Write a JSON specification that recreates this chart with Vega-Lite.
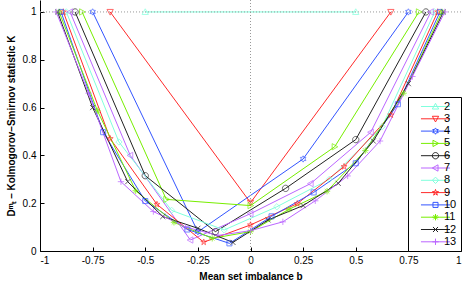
{
  "$schema": "https://vega.github.io/schema/vega-lite/v6.json",
  "width": 421,
  "height": 251,
  "autosize": {"type": "none"},
  "padding": {"left": 40, "top": 0, "right": 2, "bottom": 33},
  "config": {
    "font": "Liberation Sans",
    "view": {"stroke": null},
    "axis": {
      "domainColor": "#000000",
      "tickColor": "#000000",
      "labelColor": "#000000",
      "titleColor": "#000000",
      "labelFontSize": 10,
      "titleFontSize": 10,
      "titleFontWeight": "bold",
      "grid": false,
      "tickSize": -4,
      "labelPadding": 8
    },
    "legend": {
      "orient": "none", "legendX": 368, "legendY": 97,
      "strokeColor": "#000000", "fillColor": "#ffffff", "padding": 4,
      "labelFontSize": 11, "labelColor": "#000000", "symbolSize": 40,
      "rowPadding": 0.3, "symbolOffset": 18, "labelOffset": 3,
      "symbolStrokeWidth": 1, "symbolOpacity": 1
    }
  },
  "datasets": {
    "ks": [
      {"n": 2, "b": -0.5, "K": 1}, {"n": 2, "b": 0.5, "K": 1},
      {"n": 3, "b": -0.6667, "K": 1}, {"n": 3, "b": 0, "K": 0.202}, {"n": 3, "b": 0.6667, "K": 1},
      {"n": 4, "b": -0.75, "K": 1}, {"n": 4, "b": -0.25, "K": 0.08}, {"n": 4, "b": 0.25, "K": 0.385}, {"n": 4, "b": 0.75, "K": 1},
      {"n": 5, "b": -0.8, "K": 1}, {"n": 5, "b": -0.4, "K": 0.216}, {"n": 5, "b": 0, "K": 0.19}, {"n": 5, "b": 0.4, "K": 0.436}, {"n": 5, "b": 0.8, "K": 1},
      {"n": 6, "b": -0.8333, "K": 1}, {"n": 6, "b": -0.5, "K": 0.315}, {"n": 6, "b": -0.1667, "K": 0.081}, {"n": 6, "b": 0.1667, "K": 0.262}, {"n": 6, "b": 0.5, "K": 0.466}, {"n": 6, "b": 0.8333, "K": 1},
      {"n": 7, "b": -0.8571, "K": 1}, {"n": 7, "b": -0.5714, "K": 0.4}, {"n": 7, "b": -0.2857, "K": 0.046}, {"n": 7, "b": 0, "K": 0.156}, {"n": 7, "b": 0.2857, "K": 0.282}, {"n": 7, "b": 0.5714, "K": 0.497}, {"n": 7, "b": 0.8571, "K": 1},
      {"n": 8, "b": -0.875, "K": 1}, {"n": 8, "b": -0.625, "K": 0.456}, {"n": 8, "b": -0.375, "K": 0.17}, {"n": 8, "b": -0.125, "K": 0.088}, {"n": 8, "b": 0.125, "K": 0.185}, {"n": 8, "b": 0.375, "K": 0.3}, {"n": 8, "b": 0.625, "K": 0.52}, {"n": 8, "b": 0.875, "K": 1},
      {"n": 9, "b": -0.8889, "K": 1}, {"n": 9, "b": -0.6667, "K": 0.47}, {"n": 9, "b": -0.4444, "K": 0.195}, {"n": 9, "b": -0.2222, "K": 0.037}, {"n": 9, "b": 0, "K": 0.109}, {"n": 9, "b": 0.2222, "K": 0.198}, {"n": 9, "b": 0.4444, "K": 0.353}, {"n": 9, "b": 0.6667, "K": 0.569}, {"n": 9, "b": 0.8889, "K": 1},
      {"n": 10, "b": -0.9, "K": 1}, {"n": 10, "b": -0.7, "K": 0.497}, {"n": 10, "b": -0.5, "K": 0.209}, {"n": 10, "b": -0.3, "K": 0.09}, {"n": 10, "b": -0.1, "K": 0.032}, {"n": 10, "b": 0.1, "K": 0.145}, {"n": 10, "b": 0.3, "K": 0.245}, {"n": 10, "b": 0.5, "K": 0.367}, {"n": 10, "b": 0.7, "K": 0.614}, {"n": 10, "b": 0.9, "K": 1},
      {"n": 11, "b": -0.9091, "K": 1}, {"n": 11, "b": -0.7273, "K": 0.587}, {"n": 11, "b": -0.5455, "K": 0.252}, {"n": 11, "b": -0.3636, "K": 0.12}, {"n": 11, "b": -0.1818, "K": 0.053}, {"n": 11, "b": 0, "K": 0.081}, {"n": 11, "b": 0.1818, "K": 0.174}, {"n": 11, "b": 0.3636, "K": 0.25}, {"n": 11, "b": 0.5455, "K": 0.42}, {"n": 11, "b": 0.7273, "K": 0.66}, {"n": 11, "b": 0.9091, "K": 1},
      {"n": 12, "b": -0.9167, "K": 1}, {"n": 12, "b": -0.75, "K": 0.6}, {"n": 12, "b": -0.5833, "K": 0.29}, {"n": 12, "b": -0.4167, "K": 0.144}, {"n": 12, "b": -0.25, "K": 0.095}, {"n": 12, "b": -0.0833, "K": 0.036}, {"n": 12, "b": 0.0833, "K": 0.13}, {"n": 12, "b": 0.25, "K": 0.19}, {"n": 12, "b": 0.4167, "K": 0.283}, {"n": 12, "b": 0.5833, "K": 0.46}, {"n": 12, "b": 0.75, "K": 0.7}, {"n": 12, "b": 0.9167, "K": 1},
      {"n": 13, "b": -0.9231, "K": 1}, {"n": 13, "b": -0.7692, "K": 0.66}, {"n": 13, "b": -0.6154, "K": 0.29}, {"n": 13, "b": -0.4615, "K": 0.165}, {"n": 13, "b": -0.3077, "K": 0.1}, {"n": 13, "b": -0.1538, "K": 0.065}, {"n": 13, "b": 0, "K": 0.085}, {"n": 13, "b": 0.1538, "K": 0.122}, {"n": 13, "b": 0.3077, "K": 0.21}, {"n": 13, "b": 0.4615, "K": 0.314}, {"n": 13, "b": 0.6154, "K": 0.46}, {"n": 13, "b": 0.7692, "K": 0.73}, {"n": 13, "b": 0.9231, "K": 1}
    ]
  },
  "data": {"name": "ks"},
  "encoding": {
    "x": {
      "field": "b", "type": "quantitative",
      "scale": {"domain": [-1, 1], "nice": false, "zero": false},
      "axis": {"values": [-1, -0.75, -0.5, -0.25, 0, 0.25, 0.5, 0.75, 1], "labelExpr": "'' + datum.value", "title": "Mean set imbalance b", "titlePadding": 6}
    },
    "y": {
      "field": "K", "type": "quantitative",
      "scale": {"domain": [0, 1.05], "nice": false, "zero": false},
      "axis": {"values": [0, 0.2, 0.4, 0.6, 0.8, 1], "labelExpr": "'' + datum.value", "title": "Dᵐₜ – Kolmogorov–Smirnov statistic K", "titlePadding": 6}
    }
  },
  "resolve": {"scale": {"color": "independent", "shape": "independent"}, "legend": {"color": "independent", "shape": "independent"}},
  "layer": [
    {
      "mark": {"type": "line", "strokeWidth": 1},
      "encoding": {
        "color": {"field": "n", "type": "nominal", "legend": null,
          "scale": {"domain": [2,3,4,5,6,7,8,9,10,11,12,13], "range": ["#80ffdd","#ff2a2a","#3355ff","#77ee00","#222222","#bb66ff","#80ffdd","#ff2a2a","#3355ff","#77ee00","#222222","#bb66ff"]}}
      }
    },
    {
      "data": {"values": [{"ref": 0}]},
      "mark": {"type": "rule", "color": "#999999", "strokeDash": [1, 2], "strokeWidth": 1},
      "encoding": {"x": {"field": "ref", "type": "quantitative"}, "y": null}
    },
    {
      "data": {"values": [{"ref": 1}]},
      "mark": {"type": "rule", "color": "#999999", "strokeDash": [1, 2], "strokeWidth": 1},
      "encoding": {"y": {"field": "ref", "type": "quantitative"}, "x": null}
    },
    {
      "mark": {"type": "point", "filled": false, "size": 40, "strokeWidth": 1},
      "encoding": {
        "color": {"field": "n", "type": "nominal", "legend": null,
          "scale": {"domain": [2,3,4,5,6,7,8,9,10,11,12,13], "range": ["#80ffdd","#ff2a2a","#3355ff","#77ee00","#222222","#bb66ff","#80ffdd","#ff2a2a","#3355ff","#77ee00","#222222","#bb66ff"]}},
        "shape": {"field": "n", "type": "nominal", "legend": null,
          "scale": {"domain": [2,3,4,5,6,7,8,9,10,11,12,13], "range": [
            "M0,-1L1,0.8L-1,0.8Z",
            "M0,1L1,-0.8L-1,-0.8Z",
            "M0,-1L0.289,-0.5L0.866,-0.5L0.577,0L0.866,0.5L0.289,0.5L0,1L-0.289,0.5L-0.866,0.5L-0.577,0L-0.866,-0.5L-0.289,-0.5Z",
            "M1,0L-0.8,-1L-0.8,1Z",
            "M1,0A1,1,0,1,1,-1,0A1,1,0,1,1,1,0Z",
            "M-1,0L0.8,-1L0.8,1Z",
            "M0,-1L1,0L0,1L-1,0Z",
            "M0,-1L0.225,-0.309L0.951,-0.309L0.363,0.118L0.588,0.809L0,0.382L-0.588,0.809L-0.363,0.118L-0.951,-0.309L-0.225,-0.309Z",
            "M-0.8,-0.8H0.8V0.8H-0.8Z",
            "M-1,0H1M0,-1V1M-0.7,-0.7L0.7,0.7M-0.7,0.7L0.7,-0.7",
            "M-0.8,-0.8L0.8,0.8M-0.8,0.8L0.8,-0.8",
            "M-1,0H1M0,-1V1"
          ]}
        }
      }
    },
    {
      "mark": {"type": "point", "filled": false, "size": 40, "strokeWidth": 1, "opacity": 0},
      "encoding": {
        "color": {"field": "n", "type": "nominal", "legend": {"title": null},
          "scale": {"domain": [2,3,4,5,6,7,8,9,10,11,12,13], "range": ["#80ffdd","#ff2a2a","#3355ff","#77ee00","#222222","#bb66ff","#80ffdd","#ff2a2a","#3355ff","#77ee00","#222222","#bb66ff"]}},
        "shape": {"field": "n", "type": "nominal", "legend": {"title": null},
          "scale": {"domain": [2,3,4,5,6,7,8,9,10,11,12,13], "range": [
            "M-4.6,0H4.6M0,-1L1,0.8L-1,0.8Z",
            "M-4.6,0H4.6M0,1L1,-0.8L-1,-0.8Z",
            "M-4.6,0H4.6M0,-1L0.289,-0.5L0.866,-0.5L0.577,0L0.866,0.5L0.289,0.5L0,1L-0.289,0.5L-0.866,0.5L-0.577,0L-0.866,-0.5L-0.289,-0.5Z",
            "M-4.6,0H4.6M1,0L-0.8,-1L-0.8,1Z",
            "M-4.6,0H4.6M1,0A1,1,0,1,1,-1,0A1,1,0,1,1,1,0Z",
            "M-4.6,0H4.6M-1,0L0.8,-1L0.8,1Z",
            "M-4.6,0H4.6M0,-1L1,0L0,1L-1,0Z",
            "M-4.6,0H4.6M0,-1L0.225,-0.309L0.951,-0.309L0.363,0.118L0.588,0.809L0,0.382L-0.588,0.809L-0.363,0.118L-0.951,-0.309L-0.225,-0.309Z",
            "M-4.6,0H4.6M-0.8,-0.8H0.8V0.8H-0.8Z",
            "M-4.6,0H4.6M-1,0H1M0,-1V1M-0.7,-0.7L0.7,0.7M-0.7,0.7L0.7,-0.7",
            "M-4.6,0H4.6M-0.8,-0.8L0.8,0.8M-0.8,0.8L0.8,-0.8",
            "M-4.6,0H4.6M-1,0H1M0,-1V1"
          ]}
        }
      }
    }
  ]
}
